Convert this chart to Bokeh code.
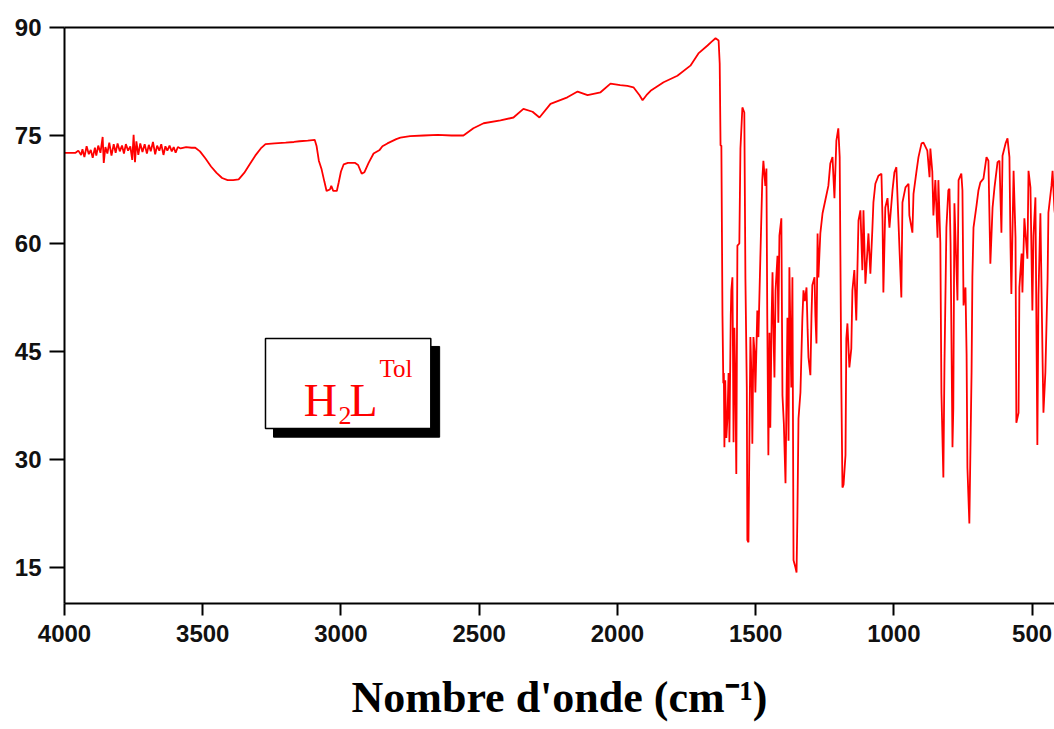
from bokeh.plotting import figure
from bokeh.models import Range1d, LinearAxis, FixedTicker, BoxAnnotation, Label
from bokeh.embed import file_html
from bokeh.resources import INLINE

# ---- data: IR spectrum (wavenumber cm-1, transmittance %) ----
wn_a = [4000, 3960, 3950, 3940, 3935, 3928, 3920, 3912, 3905, 3898,
        3890, 3885, 3878, 3870, 3862, 3858, 3852, 3845, 3838, 3830,
        3822, 3815, 3808, 3800, 3792, 3785, 3778, 3770, 3762, 3755,
        3750, 3745, 3740, 3733, 3726, 3718, 3710, 3702, 3695, 3688,
        3680, 3672, 3665, 3657, 3650, 3642, 3635, 3628, 3620, 3612,
        3605, 3598, 3590, 3580, 3560, 3540, 3527, 3510, 3490, 3470,
        3450, 3430, 3410, 3390, 3370, 3350, 3330, 3310, 3290, 3273,
        3240, 3200, 3170, 3150, 3120, 3095, 3088, 3080, 3070, 3060,
        3052, 3040, 3035, 3028, 3015, 3008, 3000, 2990, 2975, 2950,
        2938, 2925, 2915, 2900, 2882, 2860, 2850, 2832, 2800, 2785,
        2750, 2701, 2650, 2600, 2557, 2521, 2484, 2423, 2376, 2340,
        2307, 2282, 2242, 2181, 2144, 2108, 2061, 2025, 1990, 1964,
        1942, 1920, 1909, 1895, 1880, 1833, 1783, 1736, 1707, 1674,
        1660]
t_a = [72.6, 72.6, 72.9, 72.3, 73.1, 72.0, 73.5, 72.4, 73.0, 71.9,
       73.3, 72.2, 73.6, 72.6, 74.8, 71.2, 73.4, 72.5, 74.0, 72.2,
       73.8, 72.6, 73.9, 72.8, 73.6, 72.5, 73.8, 72.9, 73.5, 71.6,
       75.1, 71.3, 74.2, 72.3, 73.9, 72.7, 73.8, 72.5, 73.7, 72.8,
       74.1, 72.4, 73.6, 72.9, 73.8, 72.3, 73.5, 72.9, 73.6, 72.8,
       73.4, 72.6, 73.4, 73.2, 73.4, 73.3, 73.3, 72.8, 71.8, 70.7,
       69.8, 69.1, 68.8, 68.8, 68.9, 69.8, 71.0, 72.2, 73.2, 73.8,
       73.9, 74.0, 74.1, 74.2, 74.3, 74.4, 73.5, 71.5, 70.3, 68.6,
       67.3, 67.5, 68.0, 67.3, 67.3, 68.5, 70.0, 71.0, 71.2, 71.2,
       70.9, 69.7, 69.9, 71.2, 72.5, 73.0, 73.5, 73.9, 74.5, 74.7,
       74.9, 75.0, 75.1, 75.0, 75.0, 76.0, 76.7, 77.1, 77.5, 78.7,
       78.3, 77.5, 79.4, 80.3, 81.1, 80.6, 81.0, 82.2, 82.0, 81.9,
       81.7, 80.6, 79.9, 80.6, 81.2, 82.4, 83.3, 84.7, 86.4, 87.5,
       88.0]

wn_b = [1645, 1634, 1630, 1627, 1624, 1620, 1617, 1615, 1613, 1610,
        1606, 1602, 1598, 1596, 1595, 1590, 1588, 1584, 1582, 1580,
        1577, 1573, 1570, 1566, 1559, 1555, 1548, 1541, 1537, 1532,
        1530, 1526, 1519, 1514, 1512, 1508, 1504, 1501, 1494, 1490,
        1483, 1476, 1472, 1465, 1461, 1458, 1454, 1450, 1447, 1442,
        1439, 1434, 1432, 1428, 1421, 1418, 1414, 1407, 1403, 1398,
        1392, 1385, 1381, 1378, 1371, 1367, 1363, 1356, 1352, 1349,
        1345, 1338, 1331, 1327, 1322, 1316, 1312, 1309, 1302, 1298,
        1295, 1287, 1284, 1280, 1276, 1273]
t_b = [88.5, 88.2, 85.0, 73.6, 73.6, 50.0, 40.6, 42.0, 31.7, 41.0,
       33.0, 35.7, 42.0, 40.0, 32.4, 50.0, 53.5, 55.3, 45.0, 32.4,
       48.3, 40.0, 28.0, 59.7, 60.0, 73.2, 78.9, 78.2, 55.1, 40.0,
       18.8, 18.5, 47.0, 40.0, 32.2, 47.0, 45.0, 39.3, 50.7, 47.0,
       58.0, 68.8, 71.5, 68.0, 70.4, 50.0, 30.6, 47.6, 34.4, 50.0,
       56.0, 45.0, 41.4, 53.5, 58.3, 49.0, 61.1, 63.5, 38.9, 35.0,
       26.7, 49.7, 32.6, 56.7, 40.0, 55.3, 16.0, 15.0, 14.3, 22.2,
       35.7, 39.3, 49.6, 53.5, 52.0, 53.9, 48.0, 44.2, 41.7, 50.0,
       54.2, 55.3, 50.0, 46.1, 61.4, 55.3]

wn_c = [1266, 1258, 1248, 1237, 1230, 1222, 1215, 1208, 1201, 1196,
        1190, 1186, 1182, 1175, 1172, 1168, 1161, 1154, 1150, 1143,
        1136, 1128, 1121, 1114, 1110, 1103, 1092, 1085, 1078, 1074,
        1067, 1056, 1045, 1041, 1038, 1031, 1023, 1016, 1005, 998,
        991, 984, 973, 969, 958, 947, 944, 933, 929, 918,
        911, 900, 893, 879, 871, 868, 861, 857, 850, 842,
        839, 832, 828, 821, 817, 810, 803, 799, 795, 788,
        785, 781, 770, 766, 756, 752, 748, 741, 737, 734,
        727, 719, 716, 712, 701, 694, 687, 676, 665, 658,
        651, 643, 636, 625, 618, 611, 607, 596, 589, 582,
        578, 575, 567, 560, 557, 549, 546, 538, 535, 528,
        517, 513, 506, 499, 495, 488, 481, 477, 470, 462,
        459, 452, 444, 441, 430, 426, 419, 410]
t_c = [61.4, 64.2, 66.0, 68.0, 71.1, 72.0, 66.3, 74.3, 76.0, 72.0,
       40.0, 26.1, 26.5, 30.6, 46.8, 48.9, 42.8, 45.4, 53.5, 56.3,
       49.3, 63.2, 64.6, 56.3, 64.6, 54.4, 61.4, 55.8, 61.8, 65.7,
       68.3, 69.4, 69.7, 63.2, 53.2, 65.0, 66.3, 62.2, 67.4, 69.9,
       70.6, 63.6, 52.5, 65.7, 67.8, 68.3, 63.9, 61.5, 66.9, 70.1,
       72.0, 73.9, 74.0, 72.9, 69.2, 73.2, 70.0, 63.9, 68.8, 60.8,
       68.8, 60.1, 39.2, 27.5, 43.3, 62.2, 67.4, 67.6, 60.1, 31.7,
       37.2, 65.6, 52.1, 68.8, 69.7, 67.4, 51.4, 53.9, 44.7, 28.9,
       21.1, 42.1, 55.3, 62.2, 65.3, 67.4, 68.5, 69.0, 72.0, 71.5,
       57.2, 65.0, 67.8, 71.3, 71.5, 61.5, 72.2, 73.9, 74.6, 72.0,
       59.4, 53.0, 70.1, 60.8, 35.1, 36.5, 53.9, 58.6, 53.2, 63.5,
       57.9, 70.1, 67.8, 50.7, 61.1, 66.4, 32.0, 52.8, 64.2, 43.5,
       36.5, 42.1, 55.1, 64.3, 68.0, 70.1, 64.6, 62.0]

x_ticks = [4000, 3500, 3000, 2500, 2000, 1500, 1000, 500]
y_ticks = [15, 30, 45, 60, 75, 90]
x_title = "Nombre d'onde (cm\u207b\u00b9)"

wavenumber = wn_a + wn_b + wn_c
transmittance = t_a + t_b + t_c

p = figure(width=1054, height=729, output_backend="svg", toolbar_location=None,
           x_range=Range1d(4000, 419), y_range=Range1d(10, 90),
           min_border_left=64, min_border_right=0, min_border_top=27,
           min_border_bottom=126)
p.grid.visible = False
p.outline_line_color = None
p.background_fill_color = "white"
p.border_fill_color = "white"

p.line(wavenumber, transmittance, line_color="#ff0000", line_width=1.8)

tick_font = "Liberation Sans"
for ax in (p.xaxis[0], p.yaxis[0]):
    ax.axis_line_width = 2
    ax.axis_line_color = "black"
    ax.major_tick_line_width = 2
    ax.major_tick_in = 0
    ax.minor_tick_line_color = None
    ax.major_label_text_font = tick_font
    ax.major_label_text_font_style = "bold"
    ax.major_label_text_font_size = "24px"
    ax.major_label_text_color = "#111111"

p.xaxis[0].ticker = FixedTicker(ticks=x_ticks)
p.yaxis[0].ticker = FixedTicker(ticks=y_ticks)
p.xaxis[0].major_tick_out = 12
p.yaxis[0].major_tick_out = 15
p.xaxis[0].major_label_standoff = 9
p.yaxis[0].major_label_standoff = 8
p.xaxis[0].axis_label = x_title
p.xaxis[0].axis_label_text_font = "Liberation Serif"
p.xaxis[0].axis_label_text_font_style = "bold"
p.xaxis[0].axis_label_text_font_size = "44px"
p.xaxis[0].axis_label_standoff = 28
p.xaxis[0].axis_label_text_color = "black"

top_axis = LinearAxis(axis_line_width=2, axis_line_color="black",
                      ticker=FixedTicker(ticks=[]),
                      major_tick_line_color=None, minor_tick_line_color=None)
p.add_layout(top_axis, "above")

# label box with shadow
shadow = BoxAnnotation(left=3244, right=2643, top=45.7, bottom=33.1,
                       fill_color="black", fill_alpha=1.0,
                       line_color="black", line_alpha=1.0)
box = BoxAnnotation(left=3273, right=2675, top=46.8, bottom=34.3,
                    fill_color="white", fill_alpha=1.0, line_color="black",
                    line_alpha=1.0, line_width=1.5)
p.add_layout(shadow)
p.add_layout(box)

lab_font = "Liberation Serif"
p.add_layout(Label(x=3135, y=38.2, text="H", text_font=lab_font,
                   text_font_size="46px", text_color="#ff0000",
                   text_baseline="alphabetic"))
p.add_layout(Label(x=3009, y=36.1, text="2", text_font=lab_font,
                   text_font_size="26px", text_color="#ff0000",
                   text_baseline="alphabetic"))
p.add_layout(Label(x=2969, y=38.2, text="L", text_font=lab_font,
                   text_font_size="46px", text_color="#ff0000",
                   text_baseline="alphabetic"))
p.add_layout(Label(x=2861, y=42.6, text="Tol", text_font=lab_font,
                   text_font_size="25px", text_color="#ff0000",
                   text_baseline="alphabetic"))

open("out.html", "w").write(file_html(p, INLINE))
